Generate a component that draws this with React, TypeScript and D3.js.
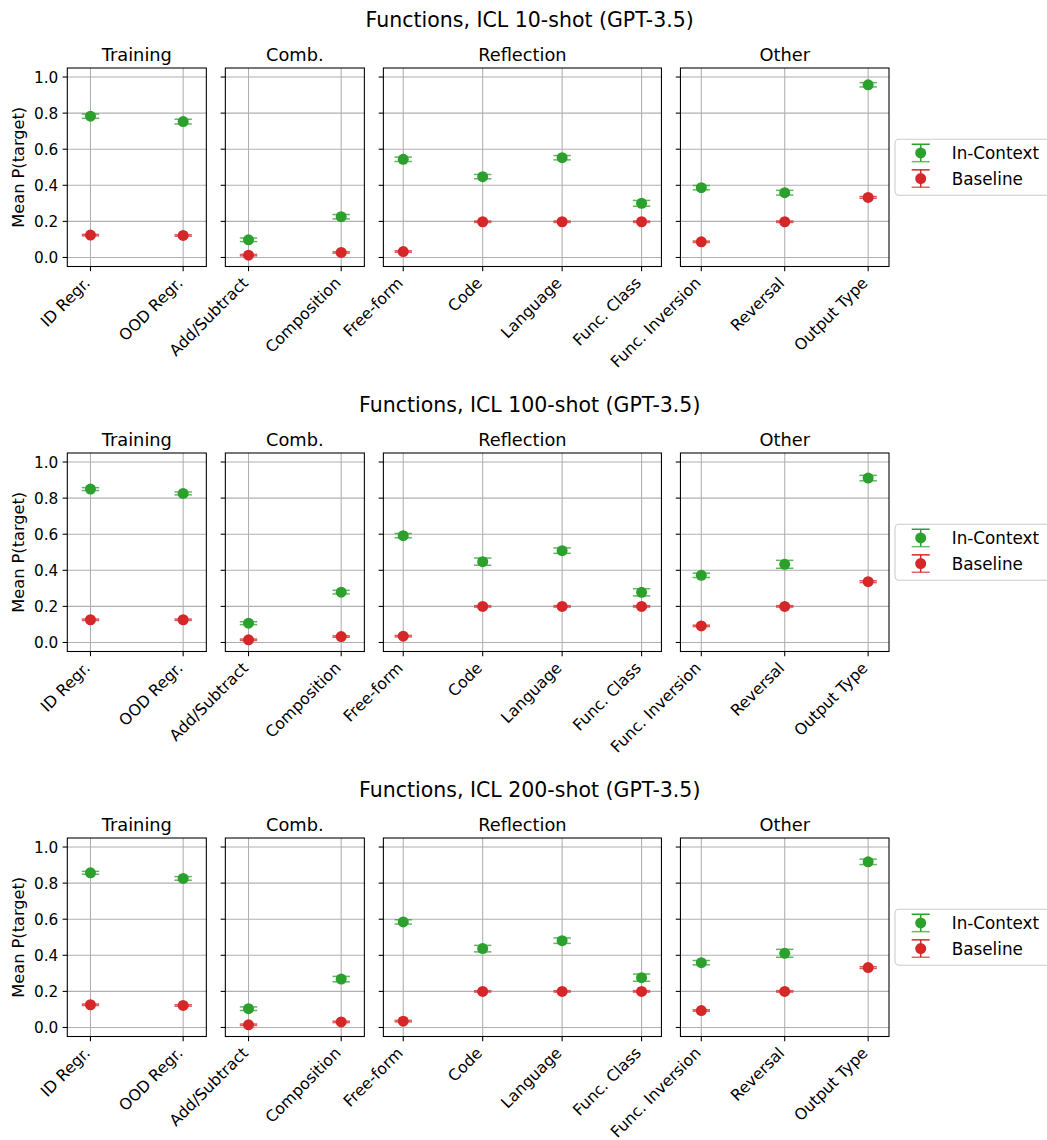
import React from "react";
import * as d3 from "d3";

const groupTitles = ["Training", "Comb.", "Reflection", "Other"];
const groupCats: string[][] = [
  ["ID Regr.", "OOD Regr."],
  ["Add/Subtract", "Composition"],
  ["Free-form", "Code", "Language", "Func. Class"],
  ["Func. Inversion", "Reversal", "Output Type"],
];
const widthRatios = [2, 2, 4, 3];

const rowTitles = [
  "Functions, ICL 10-shot (GPT-3.5)",
  "Functions, ICL 100-shot (GPT-3.5)",
  "Functions, ICL 200-shot (GPT-3.5)",
];

// values in order of all categories (11)
const inContext10 = [0.783, 0.753, 0.098, 0.226, 0.544, 0.448, 0.553, 0.3, 0.387, 0.359, 0.957];
const baseline10 = [0.124, 0.122, 0.013, 0.028, 0.033, 0.198, 0.198, 0.198, 0.087, 0.198, 0.333];
const inContextErr10 = [0.012, 0.013, 0.01, 0.012, 0.012, 0.012, 0.012, 0.016, 0.012, 0.013, 0.012];
const baselineErr10 = [0.004, 0.004, 0.004, 0.004, 0.004, 0.004, 0.004, 0.004, 0.004, 0.004, 0.005];

const inContext100 = [0.85, 0.826, 0.107, 0.279, 0.592, 0.448, 0.509, 0.278, 0.372, 0.433, 0.911];
const baseline100 = [0.126, 0.126, 0.015, 0.033, 0.035, 0.2, 0.2, 0.2, 0.092, 0.2, 0.337];
const inContextErr100 = [0.008, 0.008, 0.008, 0.01, 0.012, 0.02, 0.015, 0.02, 0.012, 0.022, 0.015];
const baselineErr100 = [0.004, 0.004, 0.004, 0.004, 0.004, 0.004, 0.004, 0.004, 0.004, 0.004, 0.005];

const inContext200 = [0.857, 0.826, 0.104, 0.268, 0.585, 0.437, 0.481, 0.276, 0.359, 0.411, 0.918];
const baseline200 = [0.126, 0.122, 0.015, 0.031, 0.035, 0.2, 0.2, 0.2, 0.094, 0.2, 0.332];
const inContextErr200 = [0.008, 0.01, 0.01, 0.015, 0.012, 0.018, 0.015, 0.02, 0.012, 0.022, 0.015];
const baselineErr200 = [0.004, 0.004, 0.004, 0.004, 0.004, 0.004, 0.004, 0.004, 0.004, 0.004, 0.005];

const yTicks = [0, 0.2, 0.4, 0.6, 0.8, 1.0];
const seriesNames = ["In-Context", "Baseline"];
const seriesColors = ["#2ca02c", "#d62728"];

const rows = [
  { title: rowTitles[0], series: [[inContext10, inContextErr10], [baseline10, baselineErr10]] },
  { title: rowTitles[1], series: [[inContext100, inContextErr100], [baseline100, baselineErr100]] },
  { title: rowTitles[2], series: [[inContext200, inContextErr200], [baseline200, baselineErr200]] },
];

const W = 1047;
const H = 1140;
const FONT = "DejaVu Sans";
const ROW_TOP0 = 68;
const ROW_STEP = 385;
const AX_H = 198.5;
const LEFT = 67.3;
const RIGHT = 889;
const GAP = 19;
const R = 5.5;
const CAP = 8.7;

function panelRanges() {
  const total = d3.sum(widthRatios);
  const unit = (RIGHT - LEFT - GAP * (widthRatios.length - 1)) / total;
  const out: [number, number][] = [];
  let x = LEFT;
  widthRatios.forEach((w) => {
    out.push([x, x + w * unit]);
    x += w * unit + GAP;
  });
  return out;
}

function Row({ rowIdx }: { rowIdx: number }) {
  const row = rows[rowIdx];
  const top = ROW_TOP0 + rowIdx * ROW_STEP;
  const bottom = top + AX_H;
  const y = d3.scaleLinear().domain([-0.05, 1.05]).range([bottom, top]);
  const ranges = panelRanges();
  let offset = 0;
  const panels = groupCats.map((cats, gi) => {
    const [x0, x1] = ranges[gi];
    const x = d3.scalePoint<string>().domain(cats).range([x0, x1]).padding(0.25);
    const start = offset;
    offset += cats.length;
    return (
      <g key={gi}>
        {yTicks.map((t) => (
          <line key={"gy" + t} x1={x0} x2={x1} y1={y(t)} y2={y(t)} stroke="#b0b0b0" strokeWidth={1.07} />
        ))}
        {cats.map((c) => (
          <line key={"gx" + c} x1={x(c)} x2={x(c)} y1={top} y2={bottom} stroke="#b0b0b0" strokeWidth={1.07} />
        ))}
        {row.series.map(([vals, errs], si) => (
          <g key={si}>
            {cats.map((c, ci) => {
              const v = vals[start + ci];
              const e = errs[start + ci];
              const cx = x(c)!;
              const color = seriesColors[si];
              return (
                <g key={c}>
                  <line x1={cx} x2={cx} y1={y(v - e)} y2={y(v + e)} stroke={color} strokeWidth={1.5} />
                  <line x1={cx - CAP} x2={cx + CAP} y1={y(v + e)} y2={y(v + e)} stroke={color} strokeWidth={1.5} opacity={0.75} />
                  <line x1={cx - CAP} x2={cx + CAP} y1={y(v - e)} y2={y(v - e)} stroke={color} strokeWidth={1.5} opacity={0.75} />
                  <circle cx={cx} cy={y(v)} r={R} fill={color} />
                </g>
              );
            })}
          </g>
        ))}
        <rect x={x0} y={top} width={x1 - x0} height={bottom - top} fill="none" stroke="#000" strokeWidth={1.07} />
        {yTicks.map((t) => (
          <g key={"yt" + t}>
            <line x1={x0 - 4.7} x2={x0} y1={y(t)} y2={y(t)} stroke="#000" strokeWidth={1.07} />
            {gi === 0 && (
              <text x={x0 - 9} y={y(t)} dy="0.36em" textAnchor="end" fontSize={15.3} fontFamily={FONT} fill="#000">
                {t.toFixed(1)}
              </text>
            )}
          </g>
        ))}
        {cats.map((c) => (
          <g key={"xt" + c}>
            <line x1={x(c)} x2={x(c)} y1={bottom} y2={bottom + 4.7} stroke="#000" strokeWidth={1.07} />
            <text
              transform={`translate(${x(c)! - 3.5},${bottom + 13.5}) rotate(-45)`}
              textAnchor="end"
              dy="0.36em"
              fontSize={15.8}
              fontFamily={FONT}
              fill="#000"
            >
              {c}
            </text>
          </g>
        ))}
        <text x={(x0 + x1) / 2} y={top - 7} textAnchor="middle" fontSize={17.8} fontFamily={FONT} fill="#000">
          {groupTitles[gi]}
        </text>
      </g>
    );
  });

  const midY = (top + bottom) / 2;
  const legTop = midY - 28;
  return (
    <g>
      <text x={529.7} y={top - 41.3} textAnchor="middle" fontSize={20.5} fontFamily={FONT} fill="#000">
        {row.title}
      </text>
      <text
        transform={`translate(${18.3},${midY}) rotate(-90)`}
        textAnchor="middle"
        dy="0.36em"
        fontSize={16.2}
        fontFamily={FONT}
        fill="#000"
      >
        Mean P(target)
      </text>
      {panels}
      <rect x={895} y={legTop} width={170} height={56} rx={4} fill="#fff" stroke="#cccccc" strokeWidth={1.07} />
      {seriesNames.map((n, i) => {
        const cy = legTop + 13.7 + i * 25.6;
        const color = seriesColors[i];
        return (
          <g key={n}>
            <line x1={920.7} x2={920.7} y1={cy - 8.7} y2={cy + 8.7} stroke={color} strokeWidth={1.5} />
            <line x1={911.7} x2={929.7} y1={cy - 8.7} y2={cy - 8.7} stroke={color} strokeWidth={1.5} />
            <line x1={911.7} x2={929.7} y1={cy + 8.7} y2={cy + 8.7} stroke={color} strokeWidth={1.5} opacity={0.7} />
            <circle cx={920.7} cy={cy} r={R} fill={color} />
            <text x={951.7} y={cy} dy="0.36em" fontSize={16.8} fontFamily={FONT} fill="#000">
              {n}
            </text>
          </g>
        );
      })}
    </g>
  );
}

export default function App() {
  return (
    <svg
      width={W}
      height={H}
      viewBox={`0 0 ${W} ${H}`}
      style={{ position: "absolute", left: 0, top: 0, background: "#fff" }}
    >
      <rect x={0} y={0} width={W} height={H} fill="#fff" />
      {rows.map((_, i) => (
        <Row key={i} rowIdx={i} />
      ))}
    </svg>
  );
}
